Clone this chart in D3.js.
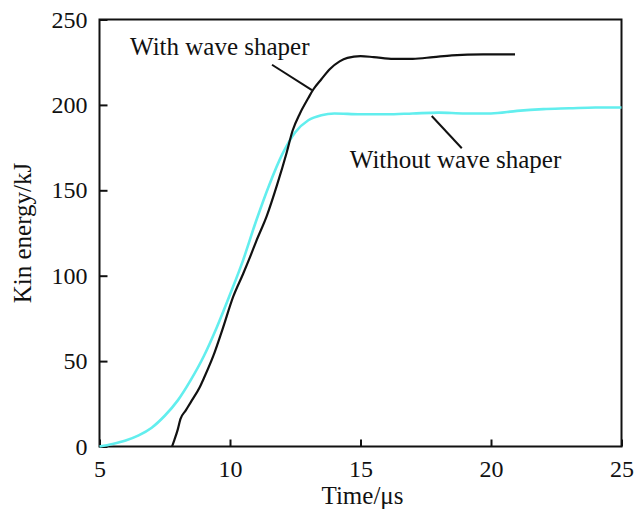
<!DOCTYPE html>
<html>
<head>
<meta charset="utf-8">
<script src="https://cdn.jsdelivr.net/npm/d3@7"></script>
<style>
  html, body { margin: 0; padding: 0; background: #fff; }
  svg { display: block; }
  text { font-family: "Liberation Serif", "Times New Roman", serif; fill: #111; }
</style>
</head>
<body>
<svg id="chart" width="635" height="517"></svg>
<script>
// Kinetic energy over time, with and without a wave shaper
const withTime   = [7.78, 7.85, 8.0, 8.1, 8.3, 8.5, 8.85, 9.0, 9.36, 9.7, 10.13, 10.5, 10.77, 11.0, 11.41, 11.8, 12.17, 12.4, 12.68, 13.0, 13.19, 13.5, 13.83, 14.2, 14.5, 15.0, 15.5, 16.26, 17.0, 17.79, 18.5, 19.7, 20.92];
const withEnergy = [0, 3, 10, 16, 21, 26, 35, 40, 53, 68, 88, 101, 111, 120, 135, 153, 172, 185, 195, 204, 209, 215, 221, 225.5, 227.5, 228.5, 228, 227, 227, 228, 229, 229.6, 229.6];

const withoutTime   = [5.0, 5.5, 6.0, 6.5, 7.0, 7.5, 8.0, 8.5, 9.0, 9.5, 10.0, 10.5, 11.0, 11.5, 12.0, 12.5, 13.0, 13.5, 14.0, 15.0, 16.0, 17.0, 18.0, 19.0, 20.0, 21.0, 22.0, 23.0, 24.0, 25.0];
const withoutEnergy = [0, 1.5, 3.5, 6.5, 11, 18, 27, 39, 53, 70, 89, 109, 132, 153, 171, 184, 191, 194, 195, 194.5, 194.5, 195, 195.5, 195, 195, 196.5, 197.5, 198, 198.5, 198.5];

const xTicks = [5, 10, 15, 20, 25];
const yTicks = [0, 50, 100, 150, 200, 250];

// Curve labels: text anchor point and leader line (data units)
const labelNames  = ["With wave shaper", "Without wave shaper"];
const labelAt     = [[6.17, 229.2], [14.59, 162.8]];
const leaderFrom  = [[11.61, 223.5], [17.73, 193.5]];
const leaderTo    = [[13.14, 208.7], [18.88, 174.6]];

const svg = d3.select("#chart");
const plotLeft = 99.5, plotRight = 621.5, plotTop = 19.5, plotBottom = 446.5;

const x = d3.scaleLinear().domain([5, 25]).range([plotLeft, plotRight]);
const y = d3.scaleLinear().domain([0, 250]).range([plotBottom, plotTop]);

// Axes with inward ticks
const xAxis = svg.append("g")
  .attr("transform", `translate(0,${plotBottom})`)
  .call(d3.axisBottom(x).tickValues(xTicks).tickSize(-7).tickPadding(13).tickFormat(d3.format("d")));
const yAxis = svg.append("g")
  .attr("transform", `translate(${plotLeft},0)`)
  .call(d3.axisLeft(y).tickValues(yTicks).tickSize(-8).tickPadding(12).tickFormat(d3.format("d")));

[xAxis, yAxis].forEach(g => {
  g.select(".domain").remove();
  g.selectAll(".tick line").attr("stroke", "#111").attr("stroke-width", 2);
  g.selectAll(".tick text")
    .style("font-family", '"Liberation Serif", "Times New Roman", serif')
    .style("font-size", "24px").attr("fill", "#111");
});

// Plot frame
svg.append("rect")
  .attr("x", plotLeft).attr("y", plotTop)
  .attr("width", plotRight - plotLeft).attr("height", plotBottom - plotTop)
  .attr("fill", "none").attr("stroke", "#111").attr("stroke-width", 2);

const line = d3.line()
  .x(d => x(d[0])).y(d => y(d[1]))
  .curve(d3.curveMonotoneX);

svg.append("path")
  .datum(d3.zip(withoutTime, withoutEnergy))
  .attr("d", line)
  .attr("fill", "none").attr("stroke", "#62eeee").attr("stroke-width", 2.6);

svg.append("path")
  .datum(d3.zip(withTime, withEnergy))
  .attr("d", line)
  .attr("fill", "none").attr("stroke", "#111").attr("stroke-width", 2.2);

// Labels and leader lines
labelNames.forEach((name, i) => {
  svg.append("line")
    .attr("x1", x(leaderFrom[i][0])).attr("y1", y(leaderFrom[i][1]))
    .attr("x2", x(leaderTo[i][0])).attr("y2", y(leaderTo[i][1]))
    .attr("stroke", "#111").attr("stroke-width", 2);
  svg.append("text")
    .attr("x", x(labelAt[i][0])).attr("y", y(labelAt[i][1]))
    .style("font-size", "25px")
    .text(name);
});

// Axis titles
svg.append("text")
  .attr("x", (plotLeft + plotRight) / 2 + 2).attr("y", 504)
  .attr("text-anchor", "middle")
  .style("font-size", "25px")
  .text("Time/μs");

svg.append("text")
  .attr("transform", `translate(31,${(plotTop + plotBottom) / 2}) rotate(-90)`)
  .attr("text-anchor", "middle")
  .style("font-size", "25px")
  .text("Kin energy/kJ");
</script>
</body>
</html>
